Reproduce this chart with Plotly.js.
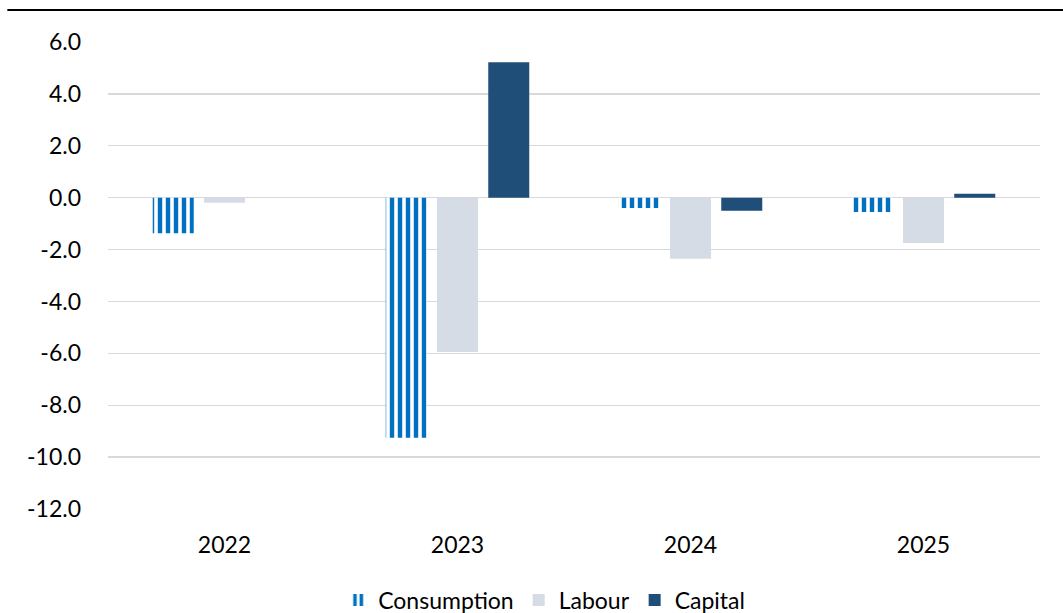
<!DOCTYPE html>
<html>
<head>
<meta charset="utf-8">
<script src="https://cdn.plot.ly/plotly-3.0.1.min.js"></script>
<style>html,body{margin:0;padding:0;background:#fff;}#chart{width:1063px;height:613px;}</style>
</head>
<body>
<div id="chart"></div>
<script>
const years = ["2022", "2023", "2024", "2025"];
const consumption = [-1.37, -9.25, -0.4, -0.55];
const labour = [-0.2, -5.95, -2.35, -1.75];
const capital = [0, 5.22, -0.5, 0.15];
const yTicks = [6, 4, 2, 0, -2, -4, -6, -8, -10, -12];

const font = {family: "Lato, 'Open Sans', sans-serif", size: 23, color: "#000"};

const traces = [
  {type: "bar", name: "Consumption", x: years, y: consumption,
   marker: {color: "#ffffff", line: {width: 0},
            pattern: {shape: "|", fgcolor: "#0070C0", bgcolor: "#ffffff", fgopacity: 1, size: 8, solidity: 0.55, fillmode: "replace"}}},
  {type: "bar", name: "Labour", x: years, y: labour, marker: {color: "#D6DCE5", line: {width: 0}}},
  {type: "bar", name: "Capital", x: years, y: capital, marker: {color: "#1F4E79", line: {width: 0}}}
];

const layout = {
  width: 1063, height: 613,
  margin: {l: 108, r: 23, t: 42, b: 104, autoexpand: false},
  paper_bgcolor: "#fff", plot_bgcolor: "#fff",
  font: font,
  barmode: "group", bargap: 0.34, bargroupgap: 0.2,
  showlegend: true,
  legend: {orientation: "h", x: 0.468, xanchor: "center", y: -0.195, yanchor: "middle",
           font: font, traceorder: "normal"},
  xaxis: {type: "category", showgrid: false, zeroline: false, showline: false, ticks: "",
          ticklabelstandoff: 20, tickfont: font},
  yaxis: {range: [-12, 6], tickvals: yTicks, ticktext: yTicks.map(v => v.toFixed(1)),
          showgrid: true, gridcolor: "#D9D9D9", gridwidth: 1.3, zeroline: false, showline: false,
          ticks: "", ticklabelstandoff: 26, tickfont: font},
  shapes: [{type: "line", xref: "paper", yref: "paper", x0: -0.108, x1: 1.03, y0: 1.0685, y1: 1.0685,
            line: {color: "#000", width: 2}}]
};

Plotly.newPlot("chart", traces, layout, {displayModeBar: false, staticPlot: true});
</script>
</body>
</html>
